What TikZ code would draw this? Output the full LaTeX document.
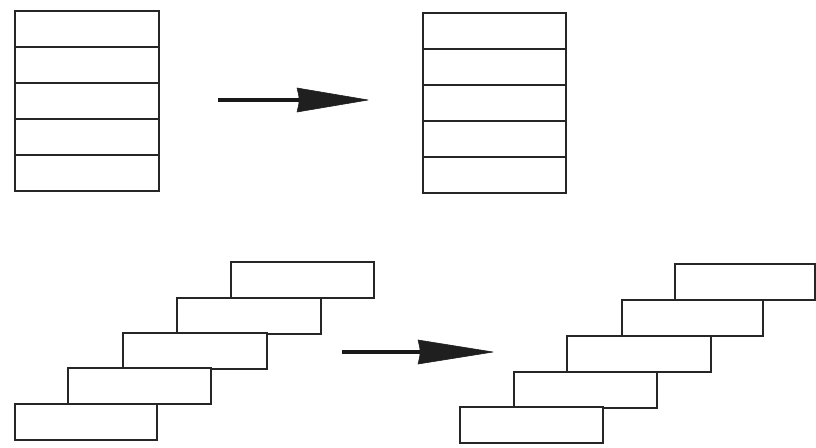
\documentclass[tikz,border=0pt]{standalone}
\begin{document}
\begin{tikzpicture}[x=1pt,y=-1pt,
  brick/.style={draw=black!85, line width=2pt, fill=white, inner sep=0pt, outer sep=0pt,
    minimum width=#1, minimum height=36pt, anchor=north west},
  brick/.default=144pt,
  shaft/.style={line width=4.5pt, draw=black!90},
  head/.style={fill=black!88, draw=black!88, line width=0.6pt, line join=round}]
\useasboundingbox (0,0) rectangle (816,447);
\fill[white] (0,0) rectangle (816,447);
% top left stack
\foreach \i/\y in {1/11,2/47,3/83,4/119,5/155}
  \node[brick] (tl\i) at (15,\y) {};
% top right stack
\foreach \i/\y in {1/13,2/49,3/85,4/121,5/157}
  \node[brick=143pt] (tr\i) at (423,\y) {};
% top arrow
\coordinate (a1s) at (218,100);
\coordinate (a1b) at (297,100);
\coordinate (a1t) at (368,100);
\draw[shaft] (a1s) -- ([xshift=2pt]a1b);
\fill[head] ([yshift=-12pt]a1b) .. controls ([xshift=3pt]a1b) .. ([yshift=12pt]a1b) -- (a1t) -- cycle;
% bottom left staircase
\node[brick=143pt] (bl1) at (231,262) {};
\node[brick=144pt] (bl2) at (177,298) {};
\node[brick=144pt] (bl3) at (123,333) {};
\node[brick=143pt] (bl4) at (68,368) {};
\node[brick=142pt] (bl5) at (15,404) {};
% bottom arrow
\coordinate (a2s) at (342,352);
\coordinate (a2b) at (418,352);
\coordinate (a2t) at (493,352);
\draw[shaft] (a2s) -- ([xshift=2pt]a2b);
\fill[head] ([yshift=-12pt]a2b) .. controls ([xshift=3pt]a2b) .. ([yshift=12pt]a2b) -- (a2t) -- cycle;
% bottom right staircase
\node[brick=140pt] (br1) at (675,264) {};
\node[brick=141pt] (br2) at (622,300) {};
\node[brick=144pt] (br3) at (567,336) {};
\node[brick=143pt] (br4) at (514,372) {};
\node[brick=143pt] (br5) at (460,407) {};
\end{tikzpicture}
\end{document}
